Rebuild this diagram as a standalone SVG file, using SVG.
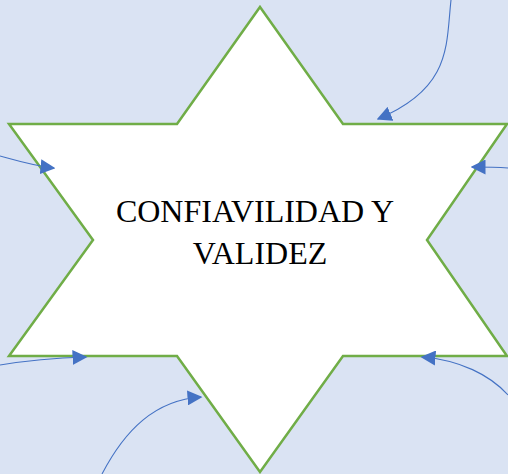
<svg xmlns="http://www.w3.org/2000/svg" width="508" height="474" viewBox="0 0 508 474">
<style>
.star{fill:#FFFFFF;stroke:#70AD47;stroke-width:2.5;stroke-linejoin:miter}
.arr{fill:none;stroke:#4472C4;stroke-width:1.1}
.lbl{font-family:"Liberation Serif","Times New Roman",serif;font-size:32px;fill:#000000;text-anchor:middle}
</style>
<defs>
<marker id="ah" viewBox="0 0 10 10" refX="9" refY="5" markerWidth="15" markerHeight="15" markerUnits="userSpaceOnUse" orient="auto">
<path d="M0,0 L10,5 L0,10 Z" fill="#4472C4"/>
</marker>
</defs>
<rect x="0" y="0" width="508" height="474" fill="#DAE3F3"/>
<g id="star">
<polygon class="star" points="260,7 343,124 507,124 427,240 507,356 343,356 260,472 177,356 9,356 93,240 9,124 177,124"/>
<text class="lbl" x="255" y="222">CONFIAVILIDAD Y</text>
<text class="lbl" x="260" y="264">VALIDEZ</text>
</g>
<g id="connectors">
<path class="arr" marker-end="url(#ah)" d="M451,0 C446,45 452,88 378,119"/>
<path class="arr" marker-end="url(#ah)" d="M0,156 C18,161 34,166 54,168"/>
<path class="arr" marker-end="url(#ah)" d="M508,168 C495,167 485,167 472,167"/>
<path class="arr" marker-end="url(#ah)" d="M0,365 C30,360 55,358 86,357"/>
<path class="arr" marker-end="url(#ah)" d="M102,474 C125,430 155,400 201,397"/>
<path class="arr" marker-end="url(#ah)" d="M508,395 C490,375 460,360 422,357"/>
</g>
</svg>
